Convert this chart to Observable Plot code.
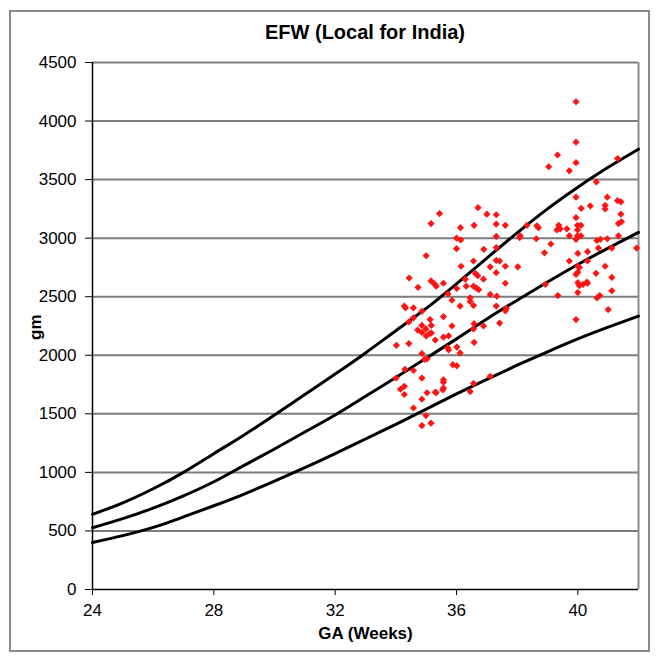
<!DOCTYPE html>
<html>
<head>
<meta charset="utf-8">
<script src="https://cdn.jsdelivr.net/npm/d3@7"></script>
<script src="https://cdn.jsdelivr.net/npm/@observablehq/plot@0.6"></script>
<style>
  html, body { margin: 0; padding: 0; background: #fff; }
  #wrap { position: relative; width: 657px; height: 663px; overflow: hidden; font-family: "Liberation Sans", Arial, sans-serif; }
  #frame { position: absolute; left: 9px; top: 10px; width: 637px; height: 638px; border: 2px solid #8c8c8c; }
  #title { position: absolute; left: 92px; width: 546px; top: 21px; text-align: center; font-weight: bold; font-size: 20px; color: #000; }
  #chart { position: absolute; left: 0; top: 50px; }
</style>
</head>
<body>
<div id="wrap">
  <div id="frame"></div>
  <div id="title">EFW (Local for India)</div>
  <div id="chart"></div>
</div>
<script>
// Reference curves (gm) by gestational age (weeks)
const weeks = [24,25,26,27,28,29,30,31,32,33,34,35,36,37,38,39,40,41,42];
const lowerCurve  = [402,460,530,620,715,815,925,1040,1160,1285,1410,1540,1670,1795,1915,2030,2140,2240,2335];
const middleCurve = [527,605,695,800,920,1060,1200,1345,1490,1650,1810,1975,2140,2310,2470,2625,2775,2915,3050];
const upperCurve  = [642,740,860,1000,1160,1320,1490,1665,1840,2020,2210,2400,2610,2830,3045,3250,3435,3605,3760];

// Observed fetal weights
const obsGA = [
 35.44,35.16,36.71,37.00,37.31,36.13,36.58,37.31,37.61,36.00,36.14,37.31,36.00,36.90,35.00,37.31,36.15,37.31,37.42,37.61,
 37.11,34.44,34.73,35.16,35.27,35.33,35.57,36.62,36.70,37.31,36.29,36.89,36.32,36.56,36.65,36.73,37.61,35.72,37.11,37.33,
 35.85,36.12,36.45,36.45,36.56,37.31,37.42,36.58,36.89,35.57,35.85,36.58,35.71,35.74,36.12,36.01,35.88,36.01,35.57,35.55,
 35.57,36.45,37.11,36.56,37.64,36.56,35.30,35.57,35.74,34.28,34.32,34.86,34.43,34.58,34.86,35.13,35.17,34.72,34.86,34.99,
 35.11,35.00,35.30,34.02,34.43,34.86,34.94,35.03,34.30,34.58,34.01,34.86,34.15,34.28,34.28,34.86,35.03,35.33,34.58,34.99,
 35.16,34.86,34.58,35.17,38.32,38.65,38.08,38.63,36.56,38.02,36.01,39.94,39.94,39.33,39.04,39.94,39.72,41.31,40.61,39.94,
 40.97,41.31,41.42,40.11,40.41,40.90,40.90,41.42,39.94,41.34,41.44,38.70,39.37,39.42,39.31,39.64,39.99,40.10,39.99,38.10,
 39.72,39.99,40.10,39.94,40.63,40.74,40.97,41.34,41.94,39.11,38.90,39.72,40.00,40.32,40.32,40.00,40.90,40.68,41.12,37.61,
 38.93,39.34,39.94,40.00,40.05,40.00,40.05,40.17,40.30,40.32,40.00,40.60,41.12,41.12,40.63,40.72,41.00,39.94,35.57
];
const obsEFW = [
 3210,3125,3260,3205,3200,3090,3110,3120,3110,3000,2985,3015,2910,2905,2850,2920,2760,2810,2805,2760,
 2755,2660,2580,2635,2610,2590,2615,2700,2680,2705,2650,2650,2590,2590,2575,2560,2615,2525,2520,2505,
 2470,2420,2490,2460,2425,2420,2275,2270,2250,2330,2250,2110,2065,2045,2020,2070,1920,1910,1790,1705,
 1720,1690,1820,1760,2400,2225,1685,2155,2165,2420,2405,2375,2285,2320,2255,2305,2255,2215,2195,2225,
 2185,2165,2130,2085,2100,2015,1965,1970,1880,1870,1805,1805,1710,1735,1665,1625,1680,1680,1550,1485,
 1420,1400,2405,2190,3110,3105,3005,2995,2805,2755,2570,4165,3820,3710,3610,3645,3575,3680,3480,3350,
 3350,3320,3310,3255,3275,3280,3250,3205,3175,3125,3140,3090,3110,3080,3070,3080,3110,3110,3070,3020,
 3020,3020,3020,2990,2980,2990,2995,3020,2915,2950,2875,2805,2870,2885,2805,2760,2760,2915,2915,2380,
 2605,2510,2690,2710,2750,2620,2595,2605,2625,2615,2535,2700,2665,2550,2490,2510,2390,2305,1770
];

const xTicks = [24,28,32,36,40];
const yTicks = [0,500,1000,1500,2000,2500,3000,3500,4000,4500];

const curves = [];
weeks.forEach((w,i) => {
  curves.push({ga:w, gm:lowerCurve[i], s:"lower"});
  curves.push({ga:w, gm:middleCurve[i], s:"middle"});
  curves.push({ga:w, gm:upperCurve[i], s:"upper"});
});
const obs = obsGA.map((g,i) => ({ga:g, gm:obsEFW[i]}));

const diamond = {
  draw(ctx, size) {
    const r = 3.6;
    ctx.moveTo(0,-r); ctx.lineTo(r,0); ctx.lineTo(0,r); ctx.lineTo(-r,0); ctx.closePath();
  }
};

const chart = Plot.plot({
  width: 657,
  height: 613,
  marginLeft: 92,
  marginRight: 19,
  marginTop: 12,
  marginBottom: 74,
  style: {fontFamily: "'Liberation Sans', Arial, sans-serif", fontSize: "17px", color: "#000", background: "transparent", overflow: "visible"},
  x: {domain: [24,42], label: null},
  y: {domain: [0,4500], label: null},
  marks: [
    Plot.ruleY(yTicks.slice(1), {stroke: "#7c7c7c", strokeWidth: 2}),
    Plot.ruleX([42], {stroke: "#8c8c8c", strokeWidth: 2}),
    Plot.line(curves, {x: "ga", y: "gm", z: "s", stroke: "#000", strokeWidth: 3, curve: "natural"}),
    Plot.dot(obs, {x: "ga", y: "gm", symbol: diamond, fill: "#ff1414", stroke: null}),
    Plot.ruleX([24], {stroke: "#000", strokeWidth: 1.5}),
    Plot.ruleY([0], {stroke: "#000", strokeWidth: 1.5}),
    Plot.axisX({ticks: xTicks, tickFormat: d => String(d), tickSize: 6, tickPadding: 8, label: null, fontSize: 17}),
    Plot.axisY({ticks: yTicks, tickFormat: d => String(d), tickSize: 7, tickPadding: 9, label: null, fontSize: 17}),
    Plot.text(["GA (Weeks)"], {frameAnchor: "bottom", dy: 49, fontWeight: "bold", fontSize: 17}),
    Plot.text(["gm"], {frameAnchor: "left", dx: -57, dy: 14, rotate: -90, fontWeight: "bold", fontSize: 17})
  ]
});
document.getElementById("chart").appendChild(chart);
</script>
</body>
</html>
